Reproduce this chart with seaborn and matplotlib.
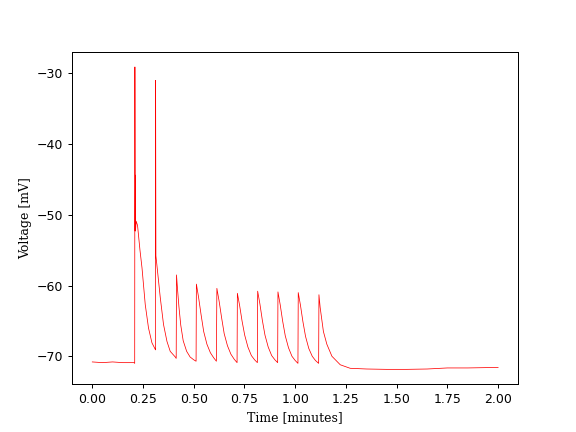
import seaborn as sns
import matplotlib.pyplot as plt
import numpy as np

# trace (time in minutes, voltage in mV)
time_min = [
    0.000, 0.050, 0.100, 0.150, 0.205, 0.209,
    0.210, 0.2115, 0.2125, 0.2135, 0.216, 0.223, 0.235, 0.245, 0.261, 0.277, 0.294, 0.310,
    0.3115, 0.312, 0.3135, 0.318, 0.335, 0.351, 0.368, 0.384, 0.409, 0.4135,
    0.415, 0.420, 0.427, 0.436, 0.448, 0.465, 0.482, 0.500, 0.5115,
    0.513, 0.524, 0.536, 0.549, 0.565, 0.582, 0.598, 0.6115,
    0.614, 0.625, 0.637, 0.650, 0.666, 0.683, 0.699, 0.7135,
    0.715, 0.726, 0.738, 0.751, 0.767, 0.784, 0.800, 0.8135,
    0.815, 0.826, 0.838, 0.851, 0.867, 0.884, 0.900, 0.9135,
    0.915, 0.926, 0.938, 0.951, 0.967, 0.984, 1.000, 1.0135,
    1.015, 1.026, 1.038, 1.051, 1.067, 1.084, 1.100, 1.1155,
    1.117, 1.123, 1.139, 1.156, 1.181, 1.222, 1.271, 1.353,
    1.450, 1.550, 1.650, 1.750, 1.850, 1.950, 2.000,
]
voltage_mv = [
    -70.8, -70.9, -70.8, -70.9, -70.9, -71.0,
    -29.1, -52.3, -44.4, -52.0, -50.9, -51.5, -55.0, -57.5, -62.7, -66.0, -68.1, -69.0,
    -69.1, -31.0, -55.8, -57.0, -61.7, -65.5, -67.9, -69.3, -70.1, -70.3,
    -58.5, -60.5, -63.0, -65.6, -67.8, -69.3, -70.1, -70.5, -70.7,
    -59.8, -61.7, -64.1, -66.5, -68.3, -69.5, -70.2, -70.7,
    -60.4, -62.2, -64.5, -66.8, -68.5, -69.7, -70.4, -70.9,
    -61.1, -62.8, -65.0, -67.0, -68.7, -69.9, -70.5, -70.9,
    -60.8, -62.6, -64.9, -67.0, -68.7, -69.9, -70.5, -70.9,
    -60.9, -62.7, -65.0, -67.1, -68.8, -70.0, -70.6, -71.0,
    -61.0, -62.8, -65.1, -67.2, -68.9, -70.0, -70.6, -71.0,
    -61.3, -63.1, -66.5, -68.3, -70.0, -71.2, -71.7, -71.8,
    -71.85, -71.85, -71.8, -71.65, -71.65, -71.6, -71.6,
]

fig, ax = plt.subplots(figsize=(6.4, 4.8), dpi=90)
sns.lineplot(x=np.array(time_min), y=np.array(voltage_mv), color="red",
             linewidth=0.6, ax=ax, sort=False, estimator=None)

ax.set_xlabel("Time [minutes]", family="DejaVu Serif")
ax.set_ylabel("Voltage [mV]", family="DejaVu Serif")

plt.savefig("out.png", dpi=90)
